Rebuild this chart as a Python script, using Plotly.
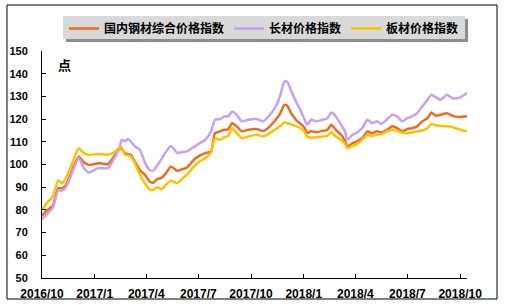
import plotly.graph_objects as go

dates = [
    "2016-10-01", "2016-10-11", "2016-10-20", "2016-10-29", "2016-11-05", "2016-11-12", "2016-11-22",
    "2016-12-04", "2016-12-13", "2016-12-22", "2017-01-07", "2017-01-24", "2017-02-05", "2017-02-14",
    "2017-02-17", "2017-02-23", "2017-02-28", "2017-03-05", "2017-03-12", "2017-03-21", "2017-03-30",
    "2017-04-07", "2017-04-13", "2017-04-20", "2017-04-28", "2017-05-05", "2017-05-14", "2017-05-25",
    "2017-06-04", "2017-06-11", "2017-06-16", "2017-06-25", "2017-07-04", "2017-07-13", "2017-07-23",
    "2017-07-30", "2017-08-08", "2017-08-15", "2017-08-22", "2017-08-29", "2017-09-06", "2017-09-15",
    "2017-09-26", "2017-10-11", "2017-10-22", "2017-11-03", "2017-11-14", "2017-11-21", "2017-11-28",
    "2017-12-03", "2017-12-10", "2017-12-19", "2017-12-26", "2018-01-02", "2018-01-07", "2018-01-14",
    "2018-01-23", "2018-02-02", "2018-02-11", "2018-02-18", "2018-02-26", "2018-03-07", "2018-03-14",
    "2018-03-18", "2018-03-27", "2018-04-04", "2018-04-13", "2018-04-22", "2018-04-30", "2018-05-09",
    "2018-05-16", "2018-05-27", "2018-06-04", "2018-06-13", "2018-06-22", "2018-07-01", "2018-07-09",
    "2018-07-18", "2018-07-27", "2018-08-05", "2018-08-12", "2018-08-19", "2018-08-28", "2018-09-08",
    "2018-09-17", "2018-09-28", "2018-10-06", "2018-10-13",
]

composite = [
    77.5, 80, 82, 89.5, 89.5, 91, 97, 103.5, 101, 99.8, 100.6, 100.2, 104, 107,
    106.8, 105, 104.5, 104.3, 101.3, 97.5, 95.4, 92.5, 92, 93.5, 94.2, 96, 99.1, 97.2,
    98, 98.6, 100, 102.5, 104, 105, 105.7, 113.8, 114.6, 115.3, 115.5, 118.2, 116.8, 114.6,
    115.3, 115.6, 114.8, 116.8, 120, 122.5, 126.3, 125.9, 122.6, 119.5, 118, 116.3, 113.8, 114.6,
    114.2, 114.8, 115.2, 117.5, 115.3, 113.1, 110.5, 107.9, 109.4, 110.2, 111.6, 114.6, 113.8, 114.6,
    114.1, 115.3, 116.8, 116, 114.6, 115.6, 116, 116.8, 119, 120.4, 122.9, 121.5, 121.9, 122.6,
    121.5, 120.9, 121.1, 121.2,
]

long_steel = [
    75.8, 78.5, 81, 88.5, 88.5, 90, 96, 103, 98.5, 96.5, 98.4, 98.4, 103, 108,
    110.9, 110.2, 111.2, 110.2, 108, 106.5, 100.6, 97.5, 97.3, 99.5, 102.5, 105.5, 108.2, 105.2,
    105.5, 105.8, 106.5, 108, 109.5, 110.9, 114.5, 119.7, 120, 121.2, 121.2, 123.4, 121.9, 119,
    119.7, 120, 119, 121.9, 126, 130.5, 136.6, 136.6, 132.5, 127.5, 124.1, 120, 117.5, 119.7,
    119, 119.7, 120.4, 122.9, 121.2, 117.5, 114.6, 110.9, 113.1, 114.1, 116, 119.7, 118.2, 119,
    117.9, 120, 121.9, 121.2, 119, 120.4, 121.2, 122.6, 125.6, 128.5, 130.7, 129.7, 128.5, 130.7,
    129.3, 129.3, 130.3, 131.5,
]

plate = [
    80, 83.5, 86, 93, 91.8, 94, 100, 107.2, 105, 104.3, 104.6, 104.3, 105.5, 107.5,
    107.5, 104.3, 104, 103.5, 100.6, 95.5, 91.5, 89, 88.8, 90, 89.1, 91, 92.9, 91.8,
    94, 95.5, 97, 99.5, 101.5, 102.8, 105.3, 111.6, 110.9, 112, 112.5, 116, 113.8, 111.6,
    112.3, 113.1, 112.3, 113.8, 115.8, 117, 118.5, 118.3, 117.7, 116.8, 116, 114.5, 112.3, 111.8,
    112, 112.3, 112.6, 114.2, 112.3, 110.9, 109, 107.2, 108.2, 109.1, 110.9, 113.1, 112.6, 113.1,
    113.4, 114.6, 115.3, 114.8, 114.1, 113.8, 114.1, 114.6, 115, 116, 117.9, 117.3, 117, 116.8,
    116.5, 115.6, 115, 114.6,
]

series_names = ["国内钢材综合价格指数", "长材价格指数", "板材价格指数"]
series_colors = ["#EE6A1E", "#C6A0F2", "#FFC000"]
tick_vals = ["2016-10-01", "2017-01-01", "2017-04-01", "2017-07-01", "2017-10-01",
             "2018-01-01", "2018-04-01", "2018-07-01", "2018-10-01"]
tick_text = ["2016/10", "2017/1", "2017/4", "2017/7", "2017/10",
             "2018/1", "2018/4", "2018/7", "2018/10"]
y_ticks = list(range(50, 151, 10))

W, H = 505, 305
ML, MR, MT, MB = 42, 38, 51, 27
PW, PH = W - ML - MR, H - MT - MB

def px(x):
    return (x - ML) / PW

def py(y):
    return (H - MB - y) / PH

fig = go.Figure()
for name, vals, col in zip(series_names, [composite, long_steel, plate], series_colors):
    fig.add_trace(go.Scatter(
        x=dates, y=vals, mode="lines", name=name,
        line=dict(color=col, width=2.5, shape="spline", smoothing=0.5),
    ))

cjk = "Noto Sans CJK SC"
fig.update_layout(
    width=W, height=H,
    margin=dict(l=ML, r=MR, t=MT, b=MB, pad=0, autoexpand=False),
    paper_bgcolor="white", plot_bgcolor="white",
    showlegend=True,
    legend=dict(
        orientation="h", x=px(64), y=py(14), xanchor="left", yanchor="top",
        bgcolor="rgba(0,0,0,0)", borderwidth=0,
        font=dict(family=cjk, size=12, color="black", weight="bold"),
        itemwidth=30, tracegroupgap=0,
    ),
    xaxis=dict(
        type="date", range=["2016-10-01", "2018-10-13"],
        tickvals=tick_vals, ticktext=tick_text,
        showgrid=False, zeroline=False, automargin=False,
        showline=True, linecolor="black", linewidth=1,
        ticks="inside", ticklen=4, tickcolor="black",
        tickfont=dict(family="Liberation Sans", size=12, color="black", weight="bold"),
        ticklabelstandoff=5,
    ),
    yaxis=dict(
        range=[50, 150], tickvals=y_ticks,
        showgrid=False, zeroline=False, automargin=False,
        showline=True, linecolor="black", linewidth=1,
        ticks="inside", ticklen=4, tickcolor="black",
        tickfont=dict(family="Liberation Sans", size=11, color="black", weight="bold"),
        ticklabelstandoff=11,
    ),
    shapes=[
        dict(type="rect", xref="paper", yref="paper",
             x0=px(66), x1=px(468), y0=py(42), y1=py(19),
             fillcolor="#8C8C8C", line=dict(width=0), layer="below"),
        dict(type="rect", xref="paper", yref="paper",
             x0=px(63), x1=px(465), y0=py(39), y1=py(16),
             fillcolor="#D9D9D9", line=dict(width=0), layer="below"),
        dict(type="rect", xref="paper", yref="paper",
             x0=px(7), x1=px(497), y0=py(299), y1=py(5),
             fillcolor="rgba(0,0,0,0)", line=dict(color="black", width=1), layer="above"),
    ],
    annotations=[
        dict(text="点", xref="paper", yref="paper", x=px(64), y=py(64),
             xanchor="center", yanchor="middle", showarrow=False,
             font=dict(family=cjk, size=13, color="black", weight="bold")),
    ],
)

fig.write_html("out.html")
